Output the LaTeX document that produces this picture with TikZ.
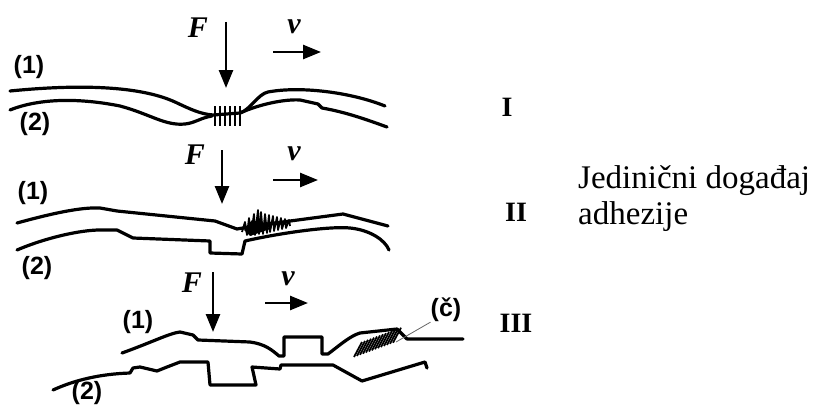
\documentclass[tikz,border=0pt]{standalone}
\usepackage{fontspec}
\setmainfont{Liberation Serif}
\newfontfamily\labelfont{Liberation Sans}
\usetikzlibrary{arrows.meta}
\begin{document}
\begin{tikzpicture}[x=1pt,y=-1pt,
  surf/.style={line width=3.2pt, line join=round, line cap=round},
  force/.style={line width=2.6pt, -{Triangle[length=18pt,width=14pt]}},
  num/.style={font=\labelfont\bfseries\fontsize{25}{25}\selectfont, inner sep=0pt},
  sym/.style={font=\bfseries\itshape\fontsize{30}{30}\selectfont, inner sep=0pt},
  roman/.style={font=\bfseries\fontsize{28}{28}\selectfont, inner sep=0pt},
  hatch/.style={line width=1.8pt, line join=round},
  leader/.style={line width=0.8pt, draw=black!60},
  caption/.style={font=\fontsize{33}{37}\selectfont, inner sep=0pt, align=left, anchor=base west}
]
\useasboundingbox (0,0) rectangle (821,412);

% ---------- Panel I ----------
\node[sym] (F1) at (198,28) {F};
\node[sym] (v1) at (294,27) {v};
\coordinate (F1s) at (226,22); \coordinate (F1e) at (226,88);
\draw[force] (F1s) -- (F1e);
\coordinate (v1s) at (273,52); \coordinate (v1e) at (321,52);
\draw[force] (v1s) -- (v1e);
\node[num] (n11) at (29,67) {(1)};
\node[num] (n12) at (35,124) {(2)};
\node[roman] (r1) at (507,107) {I};
\draw[surf] (10,91) .. controls (80,84) and (140,86) .. (175,102)
  .. controls (190,109) and (200,114) .. (213,115) -- (240,113)
  .. controls (250,110) and (258,94) .. (268,92)
  .. controls (300,86) and (350,92) .. (385,106);
\draw[surf] (10,110) .. controls (40,98) and (80,98) .. (120,106)
  .. controls (150,114) and (165,126) .. (185,124)
  .. controls (195,123) and (200,118) .. (212,116);
\draw[surf] (240,113) .. controls (260,104) and (285,99) .. (300,100)
  -- (318,104) -- (322,108) .. controls (345,112) and (365,119) .. (387,127);
\foreach \xx in {215,220,225,230,235,240}
  \draw[line width=2.4pt] (\xx,106) -- (\xx,126);

% ---------- Panel II ----------
\node[sym] (F2) at (195,155) {F};
\node[sym] (v2) at (294,154) {v};
\coordinate (F2s) at (222,150); \coordinate (F2e) at (222,204);
\draw[force] (F2s) -- (F2e);
\coordinate (v2s) at (273,180); \coordinate (v2e) at (318,180);
\draw[force] (v2s) -- (v2e);
\node[num] (n21) at (33,193) {(1)};
\node[num] (n22) at (37,268) {(2)};
\node[roman] (r2) at (516,212) {II};
\draw[surf] (17,223) .. controls (50,214) and (80,207) .. (100,208)
  -- (117,211) -- (215,221) -- (237,229) -- (260,225) -- (343,214) -- (388,226);
\draw[surf] (17,250) .. controls (45,238) and (80,230) .. (100,230)
  -- (117,230) -- (133,238) -- (210,241) -- (210,253) -- (242,254) -- (245,241)
  .. controls (280,233) and (330,226) .. (350,228)
  .. controls (370,230) and (385,240) .. (389,250);
\draw[hatch] (242,232) -- (245,222) -- (247,235) -- (249,218) -- (251,235)
  -- (254,214) -- (255,235) -- (258,210) -- (259,234) -- (261,212) -- (263,234)
  -- (265,214) -- (267,233) -- (269,215) -- (270,232) -- (273,216) -- (274,231)
  -- (277,217) -- (278,230) -- (281,218) -- (282,229) -- (285,219) -- (286,228)
  -- (289,220) -- (290,226);
\fill (244,230) -- (252,220) -- (262,222) -- (270,229) -- (250,236) -- cycle;

% ---------- Panel III ----------
\node[sym] (F3) at (192,283) {F};
\node[sym] (v3) at (288,279) {v};
\coordinate (F3s) at (213,272); \coordinate (F3e) at (213,332);
\draw[force] (F3s) -- (F3e);
\coordinate (v3s) at (265,303); \coordinate (v3e) at (308,303);
\draw[force] (v3s) -- (v3e);
\node[num] (n31) at (138,322) {(1)};
\node[num] (n32) at (87,393) {(2)};
\node[num] (c3) at (446,310) {(č)};
\node[roman] (r3) at (516,323) {III};
\draw[surf] (122,353) .. controls (150,343) and (170,333) .. (180,332)
  -- (193,335) -- (198,340) -- (250,342)
  .. controls (265,344) and (272,350) .. (279,356) -- (284,356) -- (284,337)
  -- (322,337) -- (322,354) -- (328,354)
  .. controls (340,345) and (350,336) .. (360,333) -- (397,329) -- (407,339) -- (463,339);
\draw[surf] (53,390) .. controls (75,380) and (100,374) .. (130,373)
  -- (133,368) -- (140,367) -- (157,371) -- (167,367) -- (180,362) -- (208,362)
  -- (210,385) -- (256,385) -- (252,367) -- (280,369) -- (281,365) -- (333,365)
  -- (362,381) -- (425,362) -- (427,368);
\foreach \i in {0,...,13}
  \draw[hatch] ({354+3*\i},{357-1.1*\i}) -- ({362+3*\i},{342-1.1*\i});
\coordinate (c3tip) at (396,342);
\draw[leader] (c3.south west) -- (c3tip);

% ---------- Caption ----------
\node[caption] (cap1) at (578,188) {Jedinični događaj};
\node[caption] (cap2) at (578,224) {adhezije};
\end{tikzpicture}
\end{document}
